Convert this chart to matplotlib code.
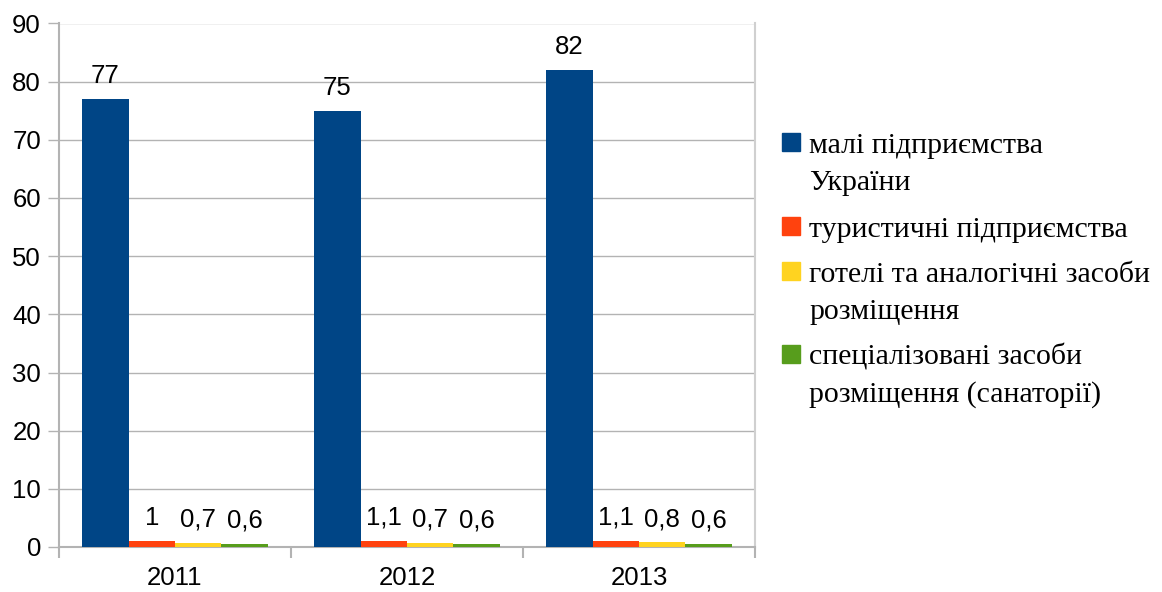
import matplotlib.pyplot as plt
from matplotlib.patches import Rectangle
import numpy as np

years = ["2011", "2012", "2013"]
series_names = ["малі підприємства\nУкраїни",
                "туристичні підприємства",
                "готелі та аналогічні засоби\nрозміщення",
                "спеціалізовані засоби\nрозміщення (санаторії)"]
small_firms = [77, 75, 82]
tourist_firms = [1, 1.1, 1.1]
hotels = [0.7, 0.7, 0.8]
sanatoria = [0.6, 0.6, 0.6]
colors = ["#004586", "#ff420e", "#ffd320", "#579d1c"]

values = [small_firms, tourist_firms, hotels, sanatoria]
fs = 18.5

fig = plt.figure(figsize=(11.62, 5.92), dpi=100)
ax = fig.add_axes([59 / 1162, 45 / 592, 696 / 1162, 523.5 / 592])

x = np.arange(len(years))
w = 0.2
for i, vals in enumerate(values):
    bars = ax.bar(x + (i - 1.5) * w, vals, w, color=colors[i], zorder=3)
    ax.bar_label(bars, labels=[str(v).replace(".", ",") for v in vals],
                 padding=8, fontsize=fs, family="Liberation Sans")

ax.set_xlim(-0.5, len(years) - 0.5)
ax.set_ylim(0, 90)
ax.set_yticks(range(0, 91, 10))
ax.grid(axis="y", color="#b3b3b3", linewidth=1, zorder=0)
ax.set_xticks(x)
ax.set_xticklabels(years)
ax.set_xticks(np.arange(-0.5, len(years)), minor=True)
ax.tick_params(axis="x", which="major", length=0, pad=14)
ax.tick_params(axis="x", which="minor", length=8, color="#b3b3b3", width=1.5)
ax.tick_params(axis="y", length=8, color="#b3b3b3", width=1, pad=5)
for lab in ax.get_xticklabels() + ax.get_yticklabels():
    lab.set_fontsize(fs)
    lab.set_family("Liberation Sans")

ax.spines["top"].set_visible(False)
ax.spines["left"].set_color("#b3b3b3")
ax.spines["bottom"].set_color("#b3b3b3")
ax.spines["right"].set_color("#d0d0d0")
ax.spines["left"].set_linewidth(1.5)
ax.spines["bottom"].set_linewidth(1.5)
ax.spines["right"].set_linewidth(1.5)

# legend drawn by hand so the square sits at the first line
centers = [142, 226, 271, 354]
for name, col, cy in zip(series_names, colors, centers):
    fig.add_artist(Rectangle((782 / 1162, (592 - cy - 9) / 592), 18 / 1162, 18 / 592,
                             color=col, transform=fig.transFigure))
    for k, line in enumerate(name.split("\n")):
        base = cy + 11 + 37 * k
        fig.text(809 / 1162, (592 - base) / 592, line, fontsize=21.5,
                 family="Liberation Serif", va="baseline", ha="left")

fig.savefig("out.png", dpi=100)
